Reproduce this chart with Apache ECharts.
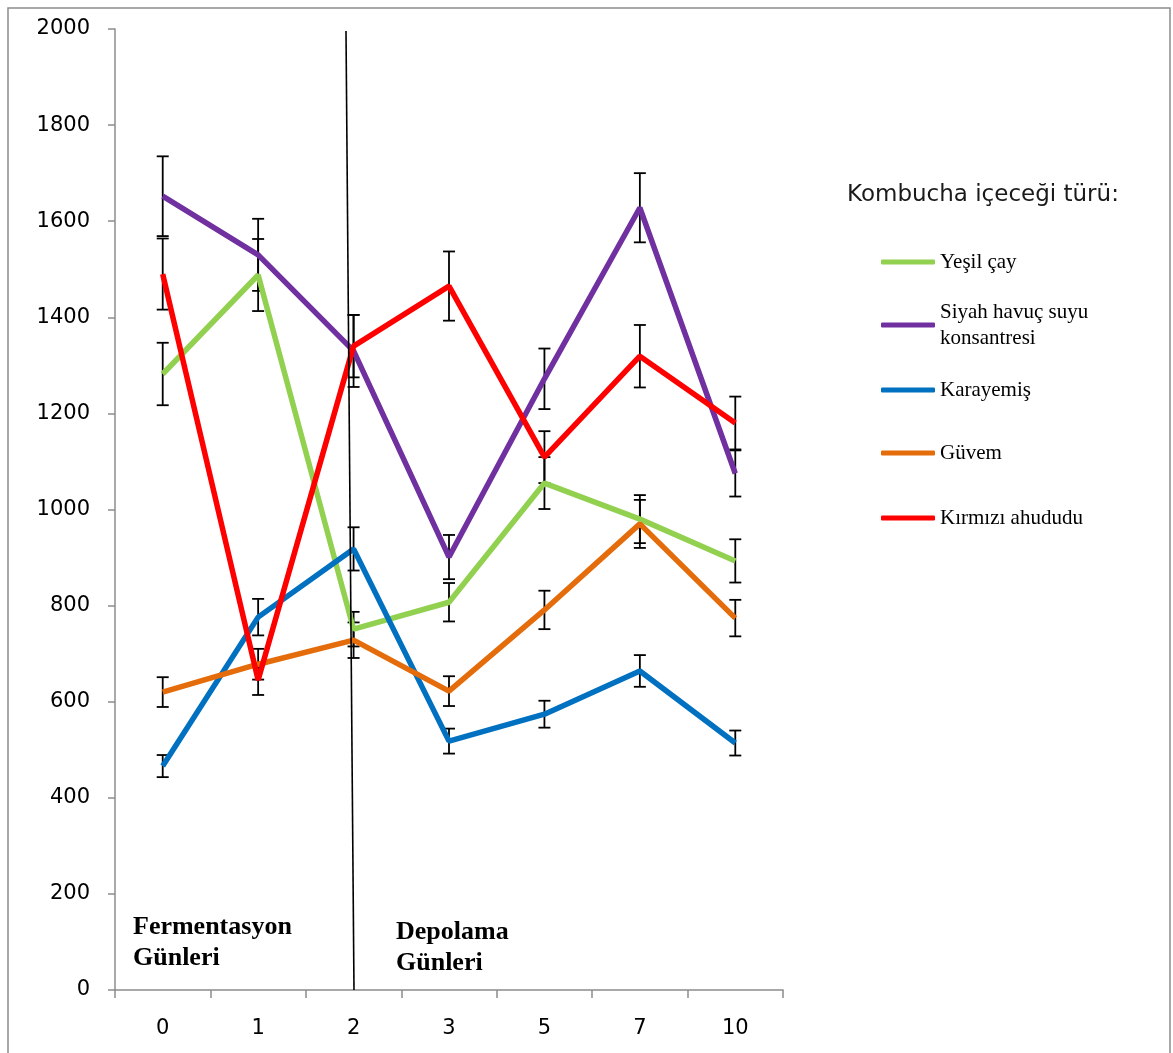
<!DOCTYPE html>
<html>
<head>
<meta charset="utf-8">
<script src="https://cdn.jsdelivr.net/npm/echarts@6/dist/echarts.min.js"></script>
<style>
  html, body { margin: 0; padding: 0; background: #ffffff; }
  #chart { width: 1173px; height: 1053px; }
</style>
</head>
<body>
<div id="chart"></div>
<script>
// days on the x axis
const days = ['0', '1', '2', '3', '5', '7', '10']

const seriesNames = ['Yeşil çay', 'Siyah havuç suyu\nkonsantresi', 'Karayemiş', 'Güvem', 'Kırmızı ahududu']
const seriesColors = ['#92D050', '#7030A0', '#0070C0', '#E46C0A', '#FF0000']

// mean values
const yesilCay = [1282, 1488, 751, 807, 1055, 980, 893]
const siyahHavuc = [1652, 1530, 1330, 901, 1272, 1628, 1075]
const karayemis = [466, 776, 918, 518, 574, 664, 514]
const guvem = [620, 678, 728, 622, 791, 970, 774]
const kirmiziAhududu = [1490, 645, 1340, 1465, 1109, 1319, 1180]

// +/- error for each point
const yesilCayErr = [65, 75, 36, 40, 54, 50, 45]
const siyahHavucErr = [83, 75, 75, 46, 63, 72, 48]
const karayemisErr = [23, 38, 45, 26, 28, 33, 26]
const guvemErr = [31, 32, 37, 31, 40, 50, 38]
const kirmiziAhududuErr = [74, 31, 65, 72, 54, 65, 55]

const yTicks = { min: 0, max: 2000, interval: 200 }

const allValues = [yesilCay, siyahHavuc, karayemis, guvem, kirmiziAhududu]
const allErrors = [yesilCayErr, siyahHavucErr, karayemisErr, guvemErr, kirmiziAhududuErr]

// legend icon centres (px), second one is aligned on its first text line
const legendCenters = [262, 325, 390, 453, 518]

const chart = echarts.init(document.getElementById('chart'), null, { renderer: 'canvas' })

const errorBarSeries = allValues.map((vals, si) => ({
    type: 'custom',
    name: 'err' + si,
    z: 1,
    silent: true,
    data: vals.map((v, i) => [i, v - allErrors[si][i], v + allErrors[si][i]]),
    encode: { x: 0, y: [1, 2] },
    renderItem: function (params, api) {
        const lo = api.coord([api.value(0), api.value(1)])
        const hi = api.coord([api.value(0), api.value(2)])
        const hw = 6
        const st = { stroke: '#000000', lineWidth: 1.8 }
        return {
            type: 'group',
            children: [
                { type: 'line', shape: { x1: lo[0], y1: lo[1], x2: hi[0], y2: hi[1] }, style: st },
                { type: 'line', shape: { x1: lo[0] - hw, y1: lo[1], x2: lo[0] + hw, y2: lo[1] }, style: st },
                { type: 'line', shape: { x1: hi[0] - hw, y1: hi[1], x2: hi[0] + hw, y2: hi[1] }, style: st },
            ],
        }
    },
}))

const lineSeries = allValues.map((vals, si) => ({
    type: 'line',
    name: seriesNames[si],
    data: vals,
    z: 3,
    symbol: 'none',
    color: seriesColors[si],
    lineStyle: { width: 5.5, color: seriesColors[si] },
}))

const legends = seriesNames.map((name, i) => {
    const twoLines = name.indexOf('\n') >= 0
    return {
        data: [name],
        orient: 'vertical',
        left: 881,
        top: legendCenters[i] - (twoLines ? 39 : 13),
        padding: 0,
        icon: 'roundRect',
        itemWidth: 54,
        itemHeight: 5,
        selectedMode: false,
        textStyle: {
            fontFamily: '"Liberation Serif", serif',
            fontSize: 21,
            lineHeight: 26,
            color: '#000000',
            padding: twoLines ? [26, 0, 0, 0] : 0,
        },
    }
})

const option = {
    animation: false,
    backgroundColor: '#ffffff',
    title: {
        text: 'Kombucha içeceği türü:',
        left: 847,
        top: 184,
        padding: 0,
        textStyle: { fontFamily: '"DejaVu Sans", sans-serif', fontSize: 23, fontWeight: 'normal', color: '#1a1a1a' },
    },
    legend: legends,
    grid: { left: 115, right: 390, top: 29, bottom: 63 },
    xAxis: {
        type: 'category',
        data: days,
        boundaryGap: true,
        axisLine: { lineStyle: { color: '#8c8c8c', width: 1.5 } },
        axisTick: { show: true, length: 8, lineStyle: { color: '#8c8c8c', width: 1.5 } },
        axisLabel: { margin: 28, fontFamily: '"DejaVu Sans", sans-serif', fontSize: 21, color: '#000000' },
        splitLine: { show: false },
    },
    yAxis: {
        type: 'value',
        min: yTicks.min,
        max: yTicks.max,
        interval: yTicks.interval,
        axisLine: { show: true, lineStyle: { color: '#8c8c8c', width: 1.5 } },
        axisTick: { show: true, length: 7, lineStyle: { color: '#8c8c8c', width: 1.5 } },
        axisLabel: {
            margin: 25,
            fontFamily: '"DejaVu Sans", sans-serif',
            fontSize: 21,
            color: '#000000',
            formatter: (v) => String(v),
        },
        splitLine: { show: false },
    },
    graphic: [
        // outer frame
        { type: 'rect', silent: true, shape: { x: 8, y: 8, width: 1162, height: 1060 }, style: { fill: 'none', stroke: '#8c8c8c', lineWidth: 1.5 } },
        // fermentation / storage separator
        { type: 'line', silent: true, z: 10, shape: { x1: 346, y1: 31, x2: 354, y2: 990 }, style: { stroke: '#000000', lineWidth: 1.6 } },
        { type: 'text', silent: true, left: 133, top: 912, style: { text: 'Fermentasyon\nGünleri', font: 'bold 26px "Liberation Serif"', lineHeight: 31, fill: '#000000' } },
        { type: 'text', silent: true, left: 396, top: 917, style: { text: 'Depolama\nGünleri', font: 'bold 26px "Liberation Serif"', lineHeight: 31, fill: '#000000' } },
    ],
    series: [...errorBarSeries, ...lineSeries],
}

chart.setOption(option)
</script>
</body>
</html>
